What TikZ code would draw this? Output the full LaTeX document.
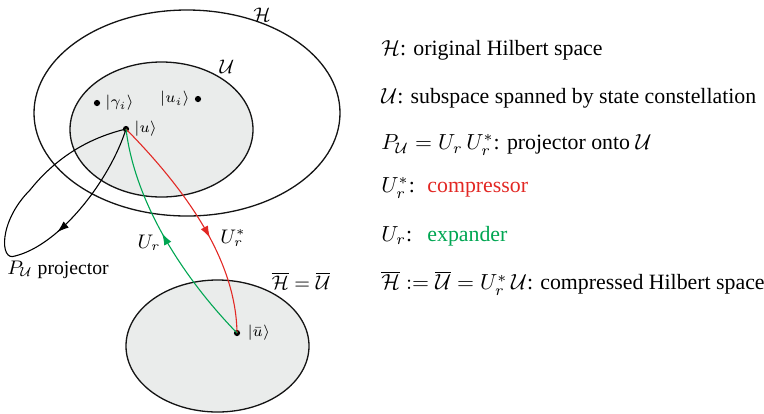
\documentclass[tikz,border=0pt]{standalone}
\usepackage[no-math]{fontspec}
\setmainfont{Liberation Serif}
\usepackage{xcolor}
\usepackage{tikz}
\usetikzlibrary{arrows.meta, decorations.markings}
\definecolor{myred}{RGB}{226,40,36}
\definecolor{mygreen}{RGB}{0,166,82}
\definecolor{myfill}{RGB}{234,236,235}
\definecolor{mydark}{RGB}{20,20,20}
\tikzset{
  space/.style={draw=mydark, line width=0.6pt},
  subspace/.style={draw=mydark, fill=myfill, line width=0.6pt},
  vec/.style={circle, fill=black, inner sep=0pt, minimum size=1mm},
  lab/.style={font=\scriptsize, inner sep=1pt},
  legend/.style={anchor=west, inner sep=0pt},
  map/.style={line width=0.5pt},
  midarrow/.style={postaction={decorate}, decoration={markings,
    mark=at position #1 with {\arrow{Latex[length=1.9mm, width=1.3mm]}}}}
}

\begin{document}
\begin{tikzpicture}[x=0.0161cm, y=-0.0161cm]
  \useasboundingbox (0,0) rectangle (764,413);
  % original space and subspace
  \draw[space] (187,113) ellipse [x radius=153, y radius=103];
  \draw[subspace] (161.5,129.5) ellipse [x radius=91.5, y radius=67.5];
  \node[lab, font=\small] (hname) at (262,15) {$\mathcal{H}$};
  \node[lab, font=\small] (uname) at (227,67) {$\mathcal{U}$};
  % compressed space
  \draw[subspace] (217.5,346) ellipse [x radius=91.5, y radius=66];
  \node[lab, font=\small] (cname) at (301,281) {$\overline{\mathcal{H}} = \overline{\mathcal{U}}$};
  % states
  \node[vec] (gam) at (97,103) {};
  \node[lab, right=1pt] (gamlab) at (gam.east) {$|\gamma_i\rangle$};
  \node[vec] (ui) at (198,99) {};
  \node[lab, left=1pt] (uilab) at (ui.west) {$|u_i\rangle$};
  \node[vec] (u) at (126,129) {};
  \node[lab, right=1pt] (ulab) at (u.east) {$|u\rangle$};
  \node[vec] (ub) at (237,333) {};
  \node[lab, right=2pt] (ublab) at (ub.east) {$|\bar{u}\rangle$};
  % projector loop
  \coordinate (ptip) at (15,256);
  \coordinate (pback) at (30,190);
  \draw[map, midarrow=0.72] (u.center) .. controls (110,180) and (60,245) .. (ptip);
  \draw[map] (ptip) .. controls (0,262) and (-2,222) .. (pback)
       .. controls (50,165) and (80,140) .. (u.center);
  \node[lab, font=\small] (plab) at (58,270) {$P_{\mathcal{U}}$ projector};
  % compressor and expander
  \draw[map, myred, midarrow=0.58] (u.center) .. controls (186,190) and (236,260) .. (ub.center);
  \draw[map, mygreen, midarrow=0.53] (ub.center) .. controls (176,270) and (134,196) .. (u.center);
  \node[lab, font=\small] (cmplab) at (233,238) {$U_r^*$};
  \node[lab, font=\small] (explab) at (149,243) {$U_r$};
  % legend
  \node[legend] (l1) at (381,50) {$\mathcal{H}$: original Hilbert space};
  \node[legend] (l2) at (381,98) {$\mathcal{U}$: subspace spanned by state constellation};
  \node[legend] (l3) at (381,145) {$P_{\mathcal{U}} = U_r\,U_r^*$: projector onto $\mathcal{U}$};
  \node[legend] (l4) at (381,188) {\makebox[0.74cm][l]{$U_r^*$:}\textcolor{myred}{compressor}};
  \node[legend] (l5) at (381,236) {\makebox[0.74cm][l]{$U_r$:}\textcolor{mygreen}{expander}};
  \node[legend] (l6) at (381,283) {$\overline{\mathcal{H}} := \overline{\mathcal{U}} = U_r^*\,\mathcal{U}$: compressed Hilbert space};
\end{tikzpicture}
\end{document}
